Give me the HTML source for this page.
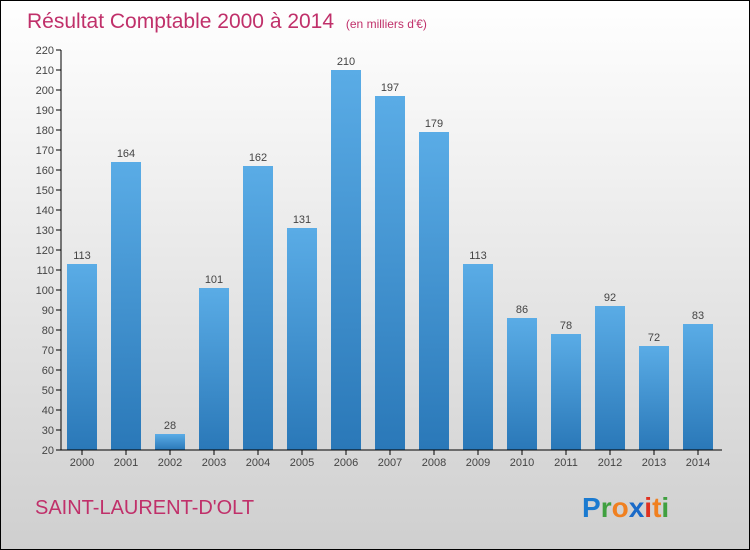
<!DOCTYPE html>
<html><head><meta charset="utf-8"><style>
body{margin:0;width:750px;height:550px;overflow:hidden}
svg{display:block;font-family:"Liberation Sans",sans-serif}
</style></head><body>
<svg width="750" height="550">
<defs>
<linearGradient id="bg" x1="0" y1="0" x2="0" y2="1"><stop offset="0" stop-color="#ffffff"/><stop offset="1" stop-color="#cfcfcf"/></linearGradient>
<linearGradient id="bar" x1="0" y1="0" x2="0" y2="1"><stop offset="0" stop-color="#5aace6"/><stop offset="1" stop-color="#2a78b8"/></linearGradient>
</defs>
<rect x="0.5" y="0.5" width="749" height="549" fill="url(#bg)" stroke="#000"/>
<text x="27" y="28" font-size="21" fill="#c0306a">Résultat Comptable 2000 à 2014 <tspan font-size="12" dx="6">(en milliers d'€)</tspan></text>
<g id="plot"></g>
<text x="35" y="514" font-size="20" fill="#c0306a">SAINT-LAURENT-D'OLT</text>
<text x="582" y="517" font-size="28" font-weight="bold"><tspan fill="#1a7ad0">P</tspan><tspan fill="#40a040">r</tspan><tspan fill="#f08020">o</tspan><tspan fill="#1a6ac8">x</tspan><tspan fill="#e03020">i</tspan><tspan fill="#f08020">t</tspan><tspan fill="#40a040">i</tspan></text>
</svg>
<script>
const categories=["2000","2001","2002","2003","2004","2005","2006","2007","2008","2009","2010","2011","2012","2013","2014"];
const values=[113,164,28,101,162,131,210,197,179,113,86,78,92,72,83];
const yTicks=[20,30,40,50,60,70,80,90,100,110,120,130,140,150,160,170,180,190,200,210,220];
const NS="http://www.w3.org/2000/svg";
const g=document.getElementById('plot');
const y=v=>450-(v-20)*2;
const x=i=>82+i*44;
function mk(t,a,txt){const e=document.createElementNS(NS,t);for(const k in a)e.setAttribute(k,a[k]);if(txt!==undefined)e.textContent=txt;g.appendChild(e);return e;}
yTicks.forEach(t=>{
 const l=mk('line',{x1:56,x2:61,y1:y(t),y2:y(t),stroke:'#000'});
 
 
 const tx=mk('text',{x:54,y:y(t)+4,'text-anchor':'end','font-size':11,fill:'#444'},t);
 
 
});
values.forEach((v,i)=>{
 const r=mk('rect',{x:x(i)-15,y:y(v),width:30,height:450-y(v),fill:'url(#bar)'});
 
 
 const vl=mk('text',{x:x(i),y:y(v)-5,'text-anchor':'middle','font-size':11,fill:'#444'},v);
 
 
 const tk=mk('line',{x1:x(i),x2:x(i),y1:450,y2:455,stroke:'#000'});
 
 
 const cl=mk('text',{x:x(i),y:466,'text-anchor':'middle','font-size':11,fill:'#444'},categories[i]);
 
 
});
const ya=mk('line',{x1:61,x2:61,y1:50,y2:450,stroke:'#000'});


const xa=mk('line',{x1:61,x2:722,y1:450,y2:450,stroke:'#000'});


</script>
</body></html>
